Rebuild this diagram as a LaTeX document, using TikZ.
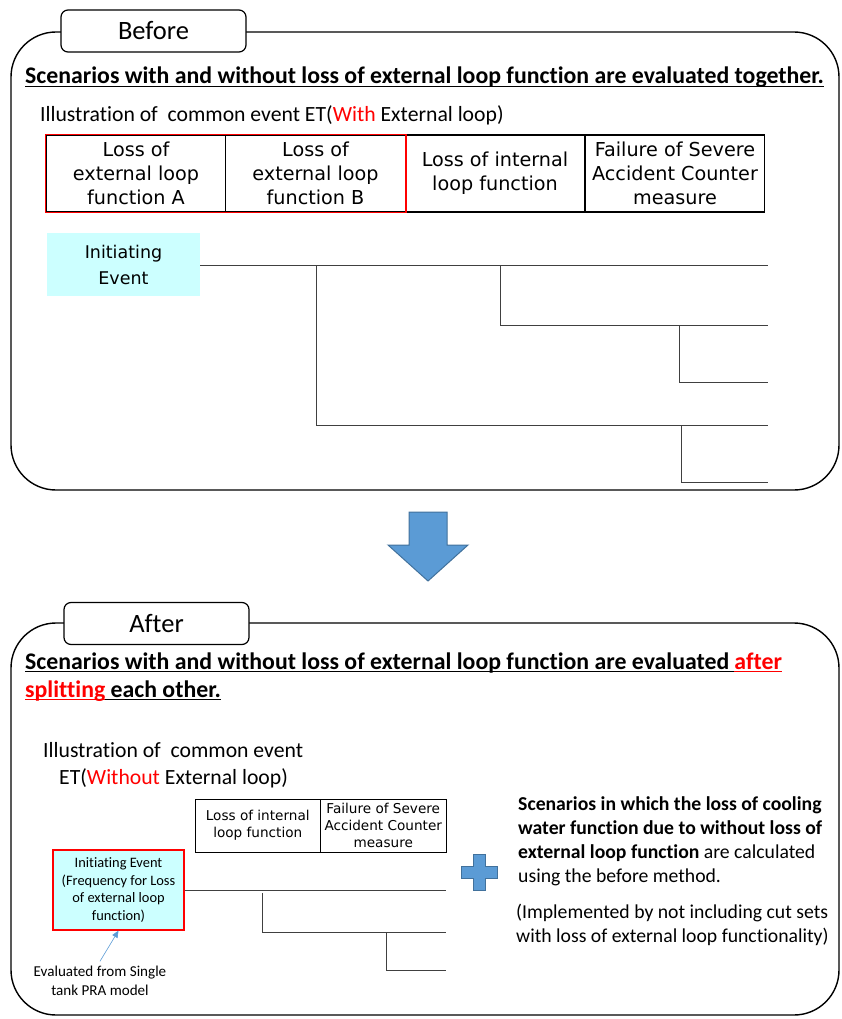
\documentclass[tikz,border=0pt]{standalone}
\usepackage{fontspec}
\setmainfont{Carlito}[Ligatures=NoCommon]
\newfontfamily\vfont{DejaVu Sans}
\usetikzlibrary{arrows.meta}
\definecolor{evcyan}{HTML}{CCFFFF}
\definecolor{blockblue}{HTML}{5B9BD5}
\definecolor{blockedge}{HTML}{41719C}
\definecolor{treegray}{HTML}{404040}
\newcommand{\fs}[2]{\fontsize{#1}{#2}\selectfont}
% underline drawn as a rule in the current colour
\newcommand{\ulin}[1]{\setbox0\hbox{#1}\rlap{\rule[-2.8pt]{\wd0}{1.2pt}}\box0}
\tikzset{
  frame/.style={draw=black, line width=1.4pt, rounded corners=45pt},
  tab/.style={draw=black, line width=1.2pt, fill=white, rounded corners=7pt,
    minimum width=185pt, minimum height=42pt, inner sep=0pt, font=\fs{26.5}{30}},
  cell/.style={draw=black, line width=1.2pt, minimum height=77pt, minimum width=179.5pt,
    inner sep=0pt, align=center, font=\vfont\fs{19.2}{24}},
  smallcell/.style={draw=black, line width=0.9pt, minimum height=53pt, minimum width=125.5pt,
    inner sep=0pt, align=center, font=\vfont\fs{13.6}{17}},
  tree/.style={draw=treegray, line width=0.9pt},
  heading/.style={anchor=base west, inner sep=0pt, font=\bfseries\fs{23.8}{28}},
  plain/.style={anchor=base west, inner sep=0pt, font=\fs{21.7}{27}},
  block/.style={fill=blockblue, draw=blockedge, line width=1pt}
}
\begin{document}
\begin{tikzpicture}[x=1pt,y=-1pt]
\useasboundingbox (0,0) rectangle (841,1019);

% ---------- Before ----------
\draw[frame] (11,32) rectangle (839,490);
\node[tab] (before) at (153.5,31) {Before};
\node[heading] (h1) at (25,84) {\ulin{Scenarios with and without loss of external loop function are evaluated together.}};
\node[plain] (ill1) at (40,122) {Illustration of\ \ common event ET(\textcolor{red}{With} External loop)};

\node[cell] (ca) at (136,173.5) {Loss of\\external loop\\function A};
\node[cell] (cb) at (315.5,173.5) {Loss of\\external loop\\function B};
\node[cell] (cc) at (495,173.5) {Loss of internal\\loop function};
\node[cell] (cd) at (675,173.5) {Failure of Severe\\Accident Counter\\measure};
\draw[red, line width=1.5pt] (ca.north west) rectangle (cb.south east);

\node[fill=evcyan, minimum width=153pt, minimum height=63pt, inner sep=0pt, align=center,
  font=\vfont\fs{17.5}{26}] (ie1) at (123.5,264.5) {Initiating\\Event};

\coordinate (b1) at (316,265);
\coordinate (b2) at (500,265);
\coordinate (b3) at (679,325);
\coordinate (b4) at (681,425);
\draw[tree] (ie1.east |- 0,265) -- (768,265);
\draw[tree] (b1) -- (316,425) -- (768,425);
\draw[tree] (b2) -- (500,325) -- (768,325);
\draw[tree] (b3) -- (679,382) -- (768,382);
\draw[tree] (b4) -- (681,482) -- (768,482);

% ---------- transition arrow ----------
\draw[block] (409,512) -- (447,512) -- (447,545) -- (468,545) -- (428,581)
  -- (388,545) -- (409,545) -- cycle;

% ---------- After ----------
\draw[frame] (11,623) rectangle (839,1015);
\node[tab] (after) at (156.5,623.5) {After};
\node[heading] (h2a) at (25,669.5) {\ulin{Scenarios with and without loss of external loop function are evaluated }\textcolor{red}{\ulin{after}}};
\node[heading] (h2b) at (25,697) {\textcolor{red}{\ulin{splitting}}\ulin{ each other.}};
\node[plain] (ill2a) at (43,757) {Illustration of\ \ common event};
\node[plain] (ill2b) at (59,784) {ET(\textcolor{red}{Without} External loop)};

\node[smallcell] (sc) at (257.75,825.5) {Loss of internal\\loop function};
\node[smallcell] (sd) at (383.25,825.5) {Failure of Severe\\Accident Counter\\measure};

\node[draw=red, line width=1.2pt, fill=evcyan, minimum width=131pt, minimum height=80pt,
  inner sep=0pt, align=center, font=\fs{14.4}{17.5}] (ie2) at (118.5,890)
  {Initiating Event\\(Frequency for Loss\\of external loop\\function)};

\coordinate (d1) at (262,893);
\coordinate (d2) at (386,932);
\draw[tree] (ie2.east |- 0,890) -- (446,890);
\draw[tree] (d1) -- (262,932) -- (446,932);
\draw[tree] (d2) -- (386,970) -- (446,970);

\node[align=center, inner sep=0pt, font=\fs{15.1}{18.5}] (note) at (100,981)
  {Evaluated from Single\\tank PRA model};
\draw[blockblue, line width=0.6pt, -{Triangle[length=7pt,width=6pt]}] (note.north) ++(0,-5) -- (ie2.south);

% plus sign
\draw[block] (473,854) -- (485,854) -- (485,866) -- (497,866) -- (497,878) -- (485,878)
  -- (485,890) -- (473,890) -- (473,878) -- (461,878) -- (461,866) -- (473,866) -- cycle;

% multi-line text: the base anchor sits on the last line
\node[anchor=base west, inner sep=0pt, align=left, font=\fs{19.7}{23.7}] (desc) at (518,882)
  {\textbf{Scenarios in which the loss of cooling}\\
   \textbf{water function due to without loss of}\\
   \textbf{external loop function} are calculated\\
   using the before method.};
\node[anchor=base west, inner sep=0pt, align=left, font=\fs{19.7}{23.5}] (impl) at (516,942)
  {(Implemented by not including cut sets\\with loss of external loop functionality)};
\end{tikzpicture}
\end{document}
